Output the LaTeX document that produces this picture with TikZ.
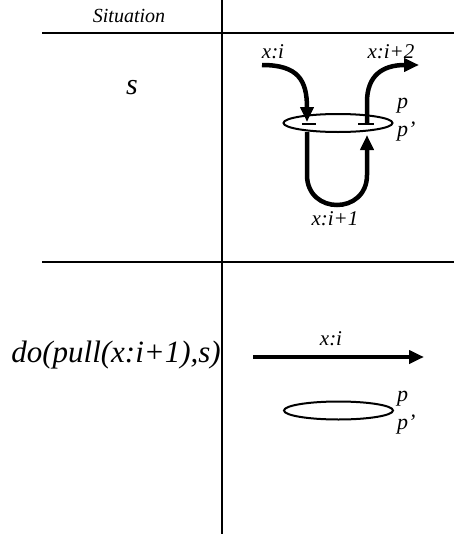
\documentclass[tikz,border=0pt]{standalone}
\usepackage{fontspec}
\setmainfont{Liberation Serif}
\usetikzlibrary{arrows.meta,shapes.geometric}
\tikzset{
  gridline/.style={line width=1.4pt,draw=black},
  strand/.style={line width=4.5pt,draw=black},
  strandtip/.style={-{Triangle[length=15pt,width=13pt]}},
  tbar/.style={line width=1.6pt,draw=black},
  ring/.style={ellipse,draw=black,line width=2pt,minimum width=109pt,minimum height=18pt,inner sep=0pt},
  lbl/.style={font=\fontsize{21}{23}\selectfont\itshape,inner sep=0pt},
  plbl/.style={font=\fontsize{22}{24}\selectfont\itshape,inner sep=0pt,anchor=west},
}
\begin{document}
\begin{tikzpicture}[x=1pt,y=-1pt]
  \useasboundingbox (0,0) rectangle (454,536);
  % table
  \draw[gridline] (222,0) -- (222,534);
  \draw[gridline] (42,33) -- (454,33);
  \draw[gridline] (42,262) -- (454,262);
  \node[lbl,font=\fontsize{20}{22}\selectfont\itshape] (head) at (129,16) {Situation};
  \node[lbl,font=\fontsize{30}{32}\selectfont\itshape] (sit) at (132,88) {s};
  \node[lbl,font=\fontsize{31}{33}\selectfont\itshape,anchor=east] (act) at (221,355) {do(pull(x:i+1),s)};

  % upper cell
  \node[ring] (loop) at (338,123) {};
  \coordinate (inl) at (262,65);
  \coordinate (outr) at (419,65);
  \draw[strand,strandtip] (inl) .. controls (298,65) and (307,80) .. (307,122);
  \draw[tbar] (302,124) -- (316,124);
  \draw[tbar] (358,124) -- (374,124);
  \draw[strand,strandtip] (307,132) -- (307,175) .. controls (307,215) and (367,215) .. (367,175) -- (367,135);
  \draw[strand,strandtip] (367,124) -- (367,102) .. controls (367,76) and (382,65) .. (outr);
  \node[lbl] (xi) at (273,52) {x:i};
  \node[lbl] (xi2) at (391,52) {x:i+2};
  \node[lbl] (xi1) at (335,219) {x:i+1};
  \node[plbl] (p) at (397,106) {p};
  \node[plbl] (pp) at (397,132) {p'};

  % lower cell
  \coordinate (bl) at (253,357);
  \coordinate (br) at (424,357);
  \draw[strand,line width=4pt,strandtip] (bl) -- (br);
  \node[lbl] (bxi) at (331,339) {x:i};
  \node[ring] (loopb) at (338.5,410.5) {};
  \node[plbl] (bp) at (397,399) {p};
  \node[plbl] (bpp) at (397,425) {p'};
\end{tikzpicture}
\end{document}
